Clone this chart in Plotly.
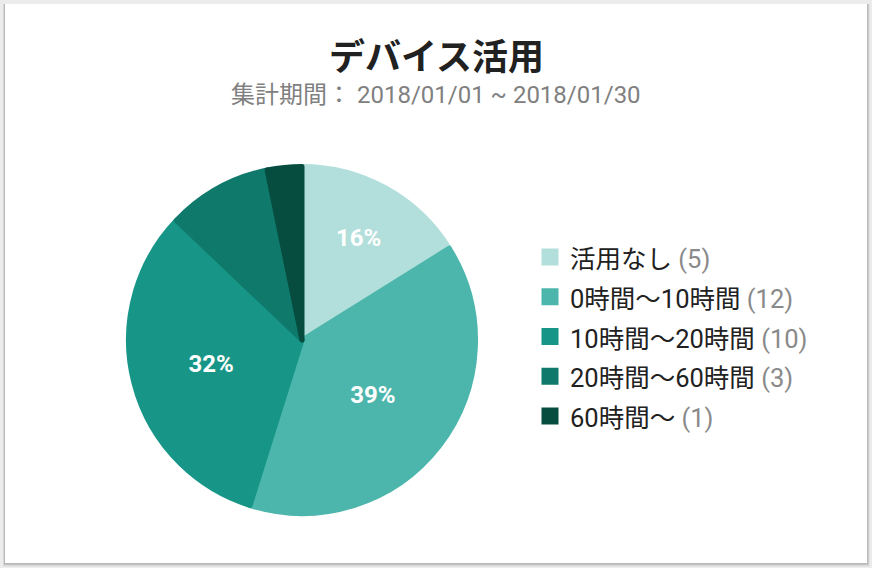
import plotly.graph_objects as go

# ---- data ----
categories = ["活用なし", "0時間〜10時間", "10時間〜20時間", "20時間〜60時間", "60時間〜"]
counts = [5, 12, 10, 3, 1]
colors = ["#b2dfdb", "#4db6ac", "#179688", "#0f796b", "#064d40"]
title_text = "デバイス活用"
subtitle_text = "集計期間： 2018/01/01 ~ 2018/01/30"

W, H = 872, 568
FONT = "Roboto, 'Noto Sans CJK JP', sans-serif"

total = sum(counts)
legend_labels = [
    f"<span style='font-size:25.5px'>{c} <span style='color:#8a8a8a'>({v})</span></span>"
    for c, v in zip(categories, counts)
]
text_templates = ["%{percent:.0%}" if v / total >= 0.15 else "" for v in counts]

def px(x):
    return x / W

def py(y):
    return 1 - y / H

# pie geometry (pixels)
cx, cy, r = 302, 340, 173.5

fig = go.Figure(
    go.Pie(
        labels=legend_labels,
        values=counts,
        sort=False,
        direction="clockwise",
        rotation=0,
        marker=dict(colors=colors, line=dict(color=colors, width=5)),
        texttemplate=text_templates,
        textposition="inside",
        insidetextorientation="horizontal",
        insidetextfont=dict(family=FONT, size=24, color="white", weight="bold"),
        hoverinfo="skip",
        domain=dict(x=[px(cx - r), px(cx + r)], y=[py(cy + r), py(cy - r)]),
    )
)

shapes = []
# soft shadow of the card
for i, op in enumerate([0.10, 0.08, 0.05]):
    shapes.append(dict(type="rect", xref="paper", yref="paper", layer="below",
                       x0=px(5 - 1 - i * 0.5), x1=px(867 + 1 + i), y0=py(563 + 1.5 + i), y1=py(4),
                       fillcolor=f"rgba(0,0,0,{op})", line=dict(width=0)))
shapes.append(dict(type="rect", xref="paper", yref="paper", layer="below",
                   x0=px(5), x1=px(867), y0=py(563), y1=py(4),
                   fillcolor="white", line=dict(width=0)))

annotations = [
    dict(text=title_text, x=px(436), y=py(54), xref="paper", yref="paper",
         xanchor="center", yanchor="middle", showarrow=False,
         font=dict(family="'Noto Sans CJK JP', Roboto, sans-serif", size=36, color="#212121", weight="bold")),
    dict(text=subtitle_text, x=px(436), y=py(95), xref="paper", yref="paper",
         xanchor="center", yanchor="middle", showarrow=False,
         font=dict(family=FONT, size=24, color="#808080")),
]

fig.update_layout(
    width=W, height=H,
    margin=dict(l=0, r=0, t=0, b=0),
    paper_bgcolor="#ececec",
    plot_bgcolor="#ececec",
    shapes=shapes,
    annotations=annotations,
    showlegend=True,
    legend=dict(x=px(530), y=py(232), xanchor="left", yanchor="top",
                font=dict(family=FONT, size=28.3, color="#212121"),
                bgcolor="rgba(0,0,0,0)", borderwidth=0),
    font=dict(family=FONT),
)

fig.write_html("out.html", config={"displayModeBar": False})
